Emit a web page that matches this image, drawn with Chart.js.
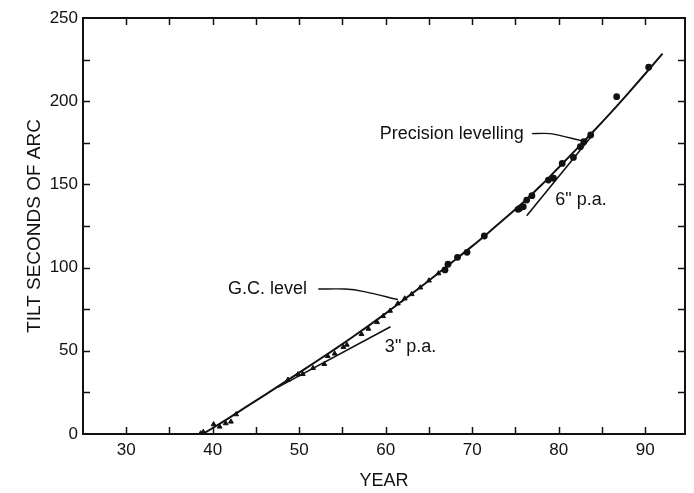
<!DOCTYPE html>
<html><head><meta charset="utf-8">
<script src="https://cdn.jsdelivr.net/npm/chart.js@4.4.1/dist/chart.umd.min.js"></script>
<style>html,body{margin:0;padding:0;background:#fff}#wrap{width:694px;height:493px;position:relative}</style>
</head><body><div id="wrap"><canvas id="c"></canvas></div>
<script>
const xTickValues = [25,30,35,40,45,50,55,60,65,70,75,80,85,90];
const xTickLabels = [30,40,50,60,70,80,90];
const yTickValues = [0,25,50,75,100,125,150,175,200,225,250];
const yTickLabels = [0,50,100,150,200,250];

// G.C. level (triangles)
const gcYears = [38.6,38.9,40.1,40.8,41.5,42.1,42.7,48.7,49.85,50.4,51.6,52.9,53.3,54.1,55.1,55.5,57.2,58.0,59.0,59.7,60.5,61.4,62.2,63.0,64.0,65.0,66.1];
const gcTilt  = [0.3,1.2,5.8,4.4,6.4,7.4,11.8,32.6,35.8,36.0,39.6,42.0,46.8,48.3,52.2,53.6,60.0,63.2,67.2,70.8,74.0,78.4,81.4,84.0,88.0,92.2,96.5];

// Precision levelling (dots)
const plYears = [66.85,67.2,68.3,69.4,71.4,75.3,75.5,75.9,76.3,76.9,78.8,79.4,80.4,81.7,82.5,82.9,83.7,86.7,90.4];
const plTilt  = [98.6,102.0,106.2,109.2,119.0,135.0,135.6,136.6,140.6,143.2,152.6,153.7,162.6,166.2,172.7,175.7,179.7,202.7,220.4];

// fitted curve
const fitYears = [38.8,40,42,44,46,48,50,52,54,56,58,60,62,64,66,68,70,72,74,76,78,80,82,84,86,88,90,92];
const fitTilt  = [0,3.6,10.0,16.7,23.4,30.1,36.9,43.7,50.6,57.7,65.0,72.5,80.3,88.2,96.3,104.6,112.9,121.6,130.5,139.7,149.6,160.2,170.9,181.8,193.0,204.6,216.5,228.6];

// rate reference lines
const rate3Years = [47.5,60.55];
const rate3Tilt  = [28.0,64.5];
const rate6Years = [76.3,83.7];
const rate6Tilt  = [131.2,178.3];

// leader lines
const gcLeaderYears = [52.2,55.3,57.5,61.4];
const gcLeaderTilt  = [87.1,87.1,85.6,80.8];
const plLeaderYears = [76.9,79.0,82.6];
const plLeaderTilt  = [180.5,180.5,176.3];

// annotation labels (left edge, vertical middle)
const labelTexts = ['Precision levelling','6" p.a.','G.C. level','3" p.a.'];
const labelYears = [59.3,79.6,41.75,59.9];
const labelTilt  = [180.3,140.6,87.3,52.5];

const pts = (xs, ys) => xs.map((v,i)=>({x:v, y:ys[i]}));
const INK = '#111';
Chart.defaults.font.family = '"Liberation Sans", Arial, sans-serif';
Chart.defaults.color = INK;

const framePlugin = {
  id: 'frame',
  afterDatasetsDraw(chart) {
    const {ctx, chartArea: a, scales: {x, y}} = chart;
    ctx.save();
    ctx.strokeStyle = INK;
    ctx.lineWidth = 2;
    ctx.strokeRect(a.left, a.top, a.right - a.left, a.bottom - a.top);
    ctx.lineWidth = 1.5;
    ctx.beginPath();
    xTickValues.forEach(v => {
      if (v <= x.min || v >= x.max) return;
      const px = Math.round(x.getPixelForValue(v)) + 0.5;
      ctx.moveTo(px, a.bottom); ctx.lineTo(px, a.bottom - 7);
      ctx.moveTo(px, a.top); ctx.lineTo(px, a.top + 7);
    });
    yTickValues.forEach(v => {
      if (v <= y.min || v >= y.max) return;
      const py = Math.round(y.getPixelForValue(v)) + 0.5;
      ctx.moveTo(a.left, py); ctx.lineTo(a.left + 7, py);
      ctx.moveTo(a.right, py); ctx.lineTo(a.right - 7, py);
    });
    ctx.stroke();
    ctx.font = '18px "Liberation Sans", Arial, sans-serif';
    ctx.fillStyle = INK;
    ctx.textAlign = 'left';
    ctx.textBaseline = 'middle';
    labelTexts.forEach((t, i) => ctx.fillText(t, x.getPixelForValue(labelYears[i]), y.getPixelForValue(labelTilt[i])));
    ctx.restore();
  }
};

const lineDs = (data, w, t) => ({data, showLine:true, pointRadius:0, borderColor:INK, borderWidth:w, fill:false, tension:t || 0});

new Chart(document.getElementById('c'), {
  type: 'scatter',
  data: {
    datasets: [
      Object.assign(lineDs(pts(fitYears, fitTilt), 2), {cubicInterpolationMode:'monotone'}),
      lineDs(pts(rate3Years, rate3Tilt), 1.6),
      lineDs(pts(rate6Years, rate6Tilt), 1.6),
      lineDs(pts(gcLeaderYears, gcLeaderTilt), 1.4, 0.35),
      lineDs(pts(plLeaderYears, plLeaderTilt), 1.4, 0.25),
      {data: pts(gcYears, gcTilt), pointStyle:'triangle', pointRadius:2.8, backgroundColor:INK, borderColor:INK, borderWidth:1},
      {data: pts(plYears, plTilt), pointStyle:'circle', pointRadius:3.4, backgroundColor:INK, borderColor:INK, borderWidth:0}
    ]
  },
  options: {
    responsive: true,
    maintainAspectRatio: false,
    animation: false,
    events: [],
    layout: {padding: {top:18, right:9, left:0, bottom:0}},
    plugins: {legend:{display:false}, tooltip:{enabled:false}},
    scales: {
      x: {
        type:'linear', min:25, max:94.6,
        afterBuildTicks: s => { s.ticks = xTickValues.map(v => ({value:v})); },
        afterFit: s => { s.height = 59; },
        grid: {display:false, drawTicks:false},
        border: {display:false},
        ticks: {autoSkip:false, maxRotation:0, padding:6, font:{size:17}, color:INK,
                callback: v => xTickLabels.includes(v) ? String(v) : ''},
        title: {display:true, text:'YEAR', font:{size:18}, color:INK, padding:{top:0, bottom:1}}
      },
      y: {
        type:'linear', min:0, max:250,
        afterBuildTicks: s => { s.ticks = yTickValues.map(v => ({value:v})); },
        afterFit: s => { s.width = 83; },
        grid: {display:false, drawTicks:false},
        border: {display:false},
        ticks: {autoSkip:false, padding:5, font:{size:17}, color:INK,
                callback: v => yTickLabels.includes(v) ? String(v) : ''},
        title: {display:true, text:'TILT SECONDS OF ARC', font:{size:19}, color:INK, padding:{top:23, bottom:0}}
      }
    }
  },
  plugins: [framePlugin]
});
</script>
</body></html>
